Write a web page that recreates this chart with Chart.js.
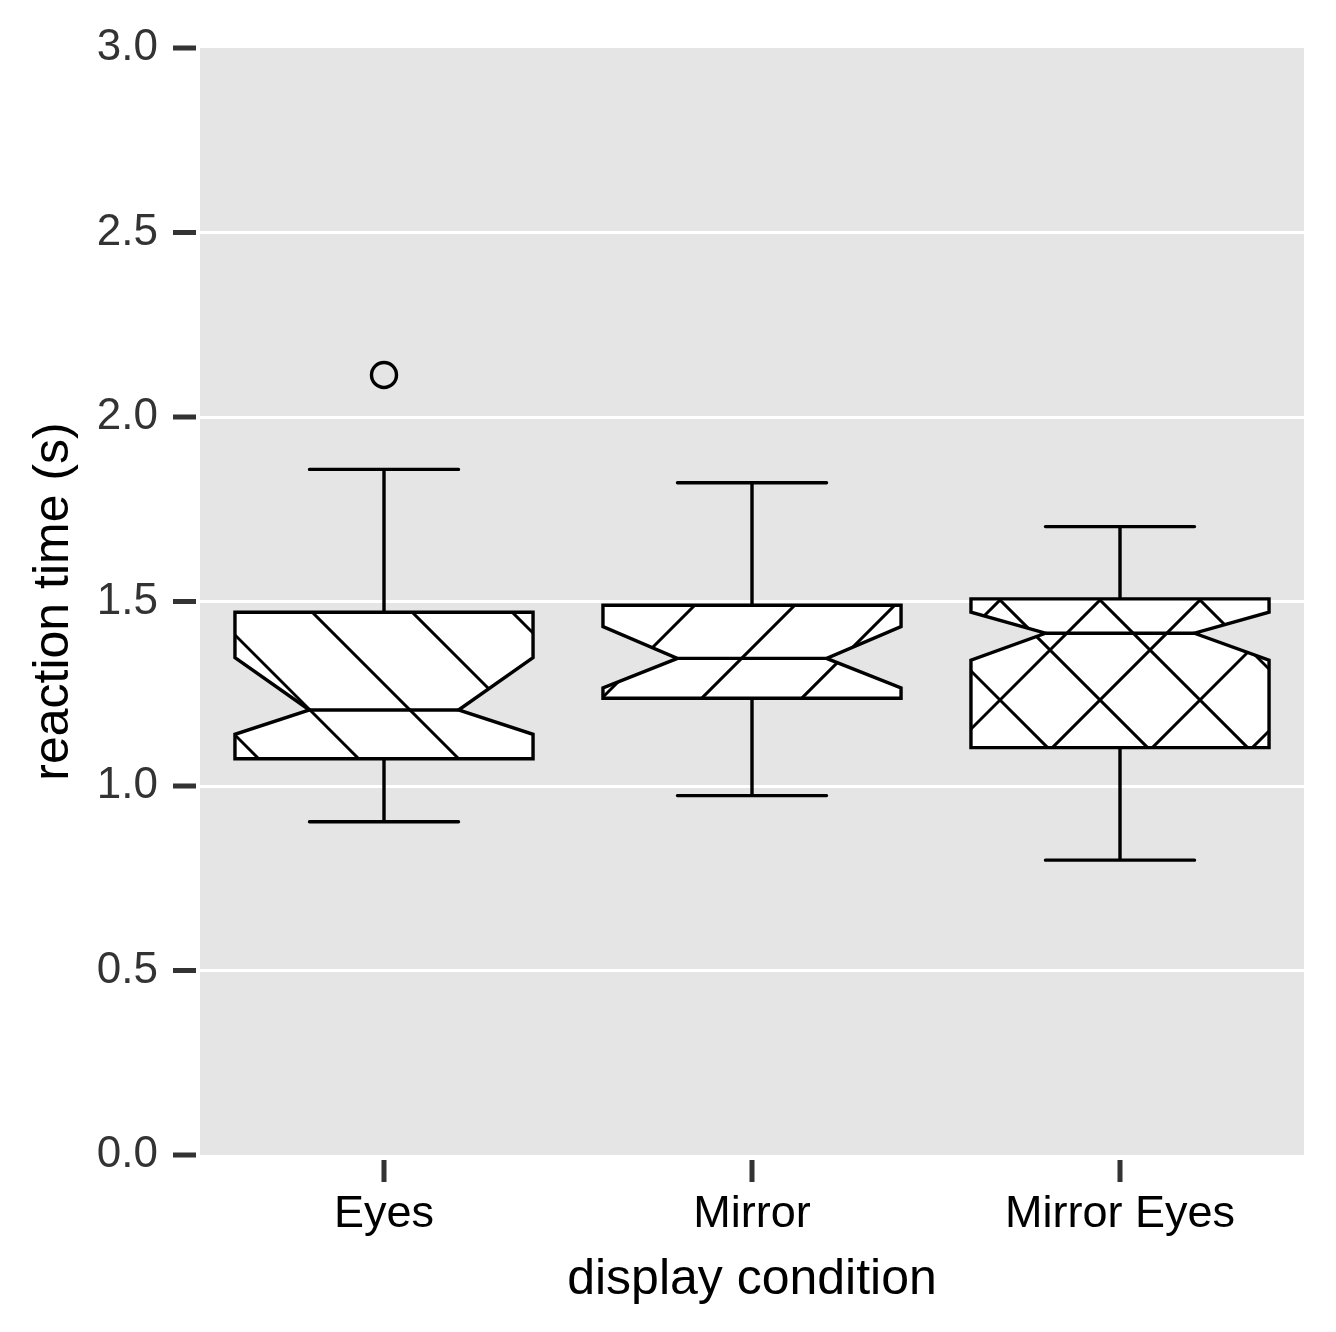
<!DOCTYPE html>
<html>
<head>
<meta charset="utf-8">
<script src="https://cdn.jsdelivr.net/npm/chart.js@4.4.0/dist/chart.umd.min.js"></script>
<style>
  body { margin: 0; background: #fff; }
  #wrap { width: 1336px; height: 1332px; }
</style>
</head>
<body>
<div id="wrap"><canvas id="rtChart" width="1336" height="1332"></canvas></div>
<script>
// reaction time (s) per display condition
const conditions = ['Eyes', 'Mirror', 'Mirror Eyes'];
const whiskerLow = [0.903, 0.974, 0.799];
const q1 = [1.074, 1.238, 1.104];
const notchLow = [1.140, 1.266, 1.341];
const medians = [1.206, 1.346, 1.414];
const notchHigh = [1.348, 1.432, 1.471];
const q3 = [1.471, 1.490, 1.507];
const whiskerHigh = [1.858, 1.822, 1.703];
const outliers = [[2.114], [], []];
const yTicks = [0, 0.5, 1, 1.5, 2, 2.5, 3];

// fill pattern per box
const hatches = ['back', 'fwd', 'cross'];
const FONT = "'Liberation Sans', Arial, Helvetica, sans-serif";

const panelBg = {
    id: 'panelBg',
    beforeDraw(chart) {
        const { ctx, chartArea: a } = chart;
        ctx.save();
        ctx.fillStyle = '#e5e5e5';
        ctx.fillRect(a.left, a.top, a.right - a.left, a.bottom - a.top);
        ctx.restore();
    }
};

function drawHatch(ctx, kind, l, r, t, b) {
    const step = 100;
    ctx.beginPath();
    if (kind === 'back' || kind === 'cross') {
        // lines x - y = c
        for (let k = Math.floor((l - b) / step); k <= Math.ceil((r - t) / step); k++) {
            const c = k * step;
            ctx.moveTo(t + c, t);
            ctx.lineTo(b + c, b);
        }
    }
    if (kind === 'fwd' || kind === 'cross') {
        // lines x + y = c
        for (let k = Math.floor((l + t) / step); k <= Math.ceil((r + b) / step); k++) {
            const c = k * step;
            ctx.moveTo(c - t, t);
            ctx.lineTo(c - b, b);
        }
    }
    ctx.stroke();
}

const boxplots = {
    id: 'boxplots',
    afterDatasetsDraw(chart) {
        const { ctx, scales: { x, y } } = chart;
        const band = x.getPixelForValue(1) - x.getPixelForValue(0);
        const half = band * 0.405;
        const ins = half / 2;

        ctx.save();
        ctx.strokeStyle = '#000';
        conditions.forEach((c, i) => {
            const cx = x.getPixelForValue(i);
            const L = cx - half, R = cx + half;
            const yLo = y.getPixelForValue(whiskerLow[i]);
            const yQ1 = y.getPixelForValue(q1[i]);
            const yNl = y.getPixelForValue(notchLow[i]);
            const yMed = y.getPixelForValue(medians[i]);
            const yNh = y.getPixelForValue(notchHigh[i]);
            const yQ3 = y.getPixelForValue(q3[i]);
            const yHi = y.getPixelForValue(whiskerHigh[i]);

            // whiskers + caps
            ctx.lineWidth = 3.4;
            ctx.lineCap = 'round';
            ctx.beginPath();
            ctx.moveTo(cx, yHi); ctx.lineTo(cx, yQ3);
            ctx.moveTo(cx, yQ1); ctx.lineTo(cx, yLo);
            ctx.moveTo(cx - half / 2, yHi); ctx.lineTo(cx + half / 2, yHi);
            ctx.moveTo(cx - half / 2, yLo); ctx.lineTo(cx + half / 2, yLo);
            ctx.stroke();

            // notched box
            const box = new Path2D();
            box.moveTo(L, yQ3);
            box.lineTo(R, yQ3);
            box.lineTo(R, yNh);
            box.lineTo(R - ins, yMed);
            box.lineTo(R, yNl);
            box.lineTo(R, yQ1);
            box.lineTo(L, yQ1);
            box.lineTo(L, yNl);
            box.lineTo(L + ins, yMed);
            box.lineTo(L, yNh);
            box.closePath();

            ctx.fillStyle = '#fff';
            ctx.fill(box);

            ctx.save();
            ctx.clip(box);
            ctx.lineWidth = 3;
            ctx.lineCap = 'butt';
            drawHatch(ctx, hatches[i], L, R, yQ3, yQ1);
            ctx.restore();

            ctx.lineWidth = 3.4;
            ctx.lineJoin = 'miter';
            ctx.stroke(box);

            ctx.beginPath();
            ctx.lineCap = 'butt';
            ctx.moveTo(L + ins, yMed);
            ctx.lineTo(R - ins, yMed);
            ctx.stroke();

            // outliers
            outliers[i].forEach(v => {
                ctx.beginPath();
                ctx.arc(cx, y.getPixelForValue(v), 12.5, 0, Math.PI * 2);
                ctx.lineWidth = 3.4;
                ctx.stroke();
            });
        });
        ctx.restore();
    }
};

const axisDecor = {
    id: 'axisDecor',
    afterDraw(chart) {
        const { ctx, chartArea: a, scales: { x, y } } = chart;
        ctx.save();
        ctx.strokeStyle = '#333';
        ctx.lineWidth = 5;
        ctx.beginPath();
        yTicks.forEach(v => {
            const py = y.getPixelForValue(v);
            ctx.moveTo(a.left - 27, py);
            ctx.lineTo(a.left - 4, py);
        });
        conditions.forEach((c, i) => {
            const px = x.getPixelForValue(i);
            ctx.moveTo(px, a.bottom + 5);
            ctx.lineTo(px, a.bottom + 27);
        });
        ctx.stroke();

        ctx.fillStyle = '#000';
        ctx.font = '50px ' + FONT;
        ctx.textAlign = 'center';
        ctx.textBaseline = 'alphabetic';
        ctx.fillText('display condition', (a.left + a.right) / 2, 1294);

        ctx.translate(68, (a.top + a.bottom) / 2);
        ctx.rotate(-Math.PI / 2);
        ctx.fillText('reaction time (s)', 0, 0);
        ctx.restore();
    }
};

window.onload = function() {
    const ctx = document.getElementById('rtChart').getContext('2d');

    new Chart(ctx, {
        type: 'line',
        data: {
            labels: conditions,
            datasets: [{
                data: medians,
                showLine: false,
                pointRadius: 0,
                pointHoverRadius: 0
            }]
        },
        options: {
            responsive: false,
            animation: false,
            devicePixelRatio: 1,
            events: [],
            layout: { padding: { top: 48, right: 32, left: 0, bottom: 0 } },
            plugins: {
                legend: { display: false },
                tooltip: { enabled: false }
            },
            scales: {
                x: {
                    type: 'category',
                    offset: true,
                    grid: { display: false, drawTicks: false },
                    border: { display: false },
                    ticks: {
                        padding: 33,
                        color: '#000',
                        font: { family: FONT, size: 45 }
                    },
                    afterFit: s => { s.height = 177; s.paddingLeft = 0; s.paddingRight = 0; }
                },
                y: {
                    min: 0,
                    max: 3,
                    afterBuildTicks: s => { s.ticks = yTicks.map(v => ({ value: v })); },
                    grid: {
                        color: c => (c.tick && c.tick.value > 0 && c.tick.value < 3) ? '#ffffff' : 'rgba(0,0,0,0)',
                        lineWidth: 3,
                        drawTicks: false
                    },
                    border: { display: false },
                    ticks: {
                        padding: 42,
                        color: '#333',
                        font: { family: FONT, size: 44 },
                        callback: v => Number(v).toFixed(1)
                    },
                    afterFit: s => { s.width = 200; s.paddingTop = 0; s.paddingBottom = 0; }
                }
            }
        },
        plugins: [panelBg, boxplots, axisDecor]
    });
};
</script>
</body>
</html>
